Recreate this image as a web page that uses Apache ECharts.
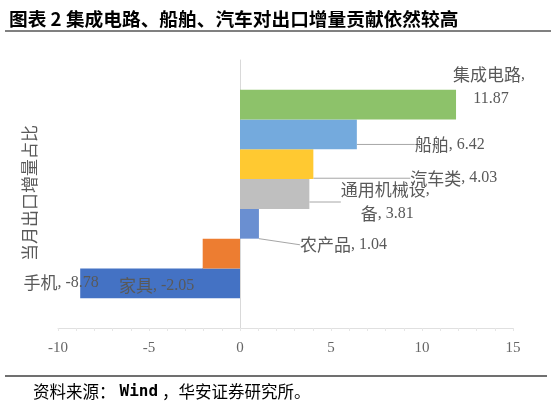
<!DOCTYPE html>
<html><head><meta charset="utf-8">
<script src="https://cdn.jsdelivr.net/npm/echarts@6/dist/echarts.min.js"></script>
<style>html,body{margin:0;padding:0;background:#fff}#c{width:551px;height:406px}</style>
</head><body><div id="c"></div>
<script>
// Data (bottom to top); blank slots pad the category axis like the original
const categories = ['', '手机', '家具', '农产品', '通用机械设备', '汽车类', '船舶', '集成电路', ''];
const values = [null, -8.78, -2.05, 1.04, 3.81, 4.03, 6.42, 11.87, null];
const xTicks = [-10, -5, 0, 5, 10, 15];

// Styles
const barColors = [null, '#4472C4', '#ED7D31', '#6A8FD1', '#BFBFBF', '#FFC931', '#74AADD', '#8DC26A', null];
const labelWraps = { '通用机械设备': ['通用机械设', '备'], '集成电路': ['集成电路', ''] };
// label offset from value end: [dx, dy, align, showLine]
const labelOffsets = [null, [-19, -1, 'center', false], [-46, 32, 'center', true], [41, 21, 'left', true],
  [78, 8, 'center', true], [97, 14, 'left', true], [58, 10, 'left', true], [35, -18, 'center', false], null];

const LBL = '#595959';
const cjk = '"Noto Sans CJK SC"';
const serif = '"Liberation Serif", "Noto Sans CJK SC", serif';

// wrap runs of CJK / full-width chars in {c|..}, others in {n|..}
function richify(s) {
  return s.split('\n').map(line => {
    let out = '', cur = '', curT = null;
    for (const ch of line) {
      const t = /[\u2E80-\u9FFF\uFF00-\uFFEF\u3000-\u303F]/.test(ch) ? 'c' : 'n';
      if (t !== curT && cur) { out += '{' + curT + '|' + cur + '}'; cur = ''; }
      curT = t; cur += ch;
    }
    if (cur) out += '{' + curT + '|' + cur + '}';
    return out;
  }).join('\n');
}

const chart = echarts.init(document.getElementById('c'));
chart.setOption({
  animation: false,
  backgroundColor: '#fff',
  title: {
    text: '图表 2 集成电路、船舶、汽车对出口增量贡献依然较高',
    left: 4, top: 5,
    textStyle: { fontSize: 18.7, fontWeight: 'bold', color: '#000', fontFamily: cjk }
  },
  graphic: [
    { type: 'line', shape: { x1: 5, y1: 31, x2: 551, y2: 31 }, style: { stroke: '#808080', lineWidth: 2 } },
    { type: 'line', shape: { x1: 5, y1: 376, x2: 547, y2: 376 }, style: { stroke: '#404040', lineWidth: 1.5 } },
    { type: 'text', x: 33, y: 392, style: {
        text: '{c|资料来源：}{m|Wind}{c|，华安证券研究所。}', verticalAlign: 'middle',
        rich: { c: { fontSize: 16.5, fontFamily: cjk, fill: '#000', color: '#000' },
                m: { fontSize: 16, fontWeight: 'bold', fontFamily: '"DejaVu Sans Mono"', fill: '#000', color: '#000', padding: [0, 4, 0, 4] } } } },
    { type: 'text', x: 30, y: 193, rotation: Math.PI / 2,
      style: { text: '当月出口增量占比', fill: LBL, font: '17px "Noto Sans CJK SC"', align: 'center', verticalAlign: 'middle' } }
  ],
  grid: { left: 58, right: 38, top: 60, bottom: 78 },
  xAxis: {
    type: 'value', min: xTicks[0], max: xTicks[xTicks.length - 1], interval: 5,
    axisLine: { show: true, lineStyle: { color: '#e0e0e0' } },
    axisTick: { show: true, length: 3, lineStyle: { color: '#e6e6e6' } },
    minorTick: { show: true, splitNumber: 5, length: 3, lineStyle: { color: '#e6e6e6' } },
    splitLine: { show: false },
    axisLabel: { color: '#666', fontSize: 15, fontFamily: serif, margin: 13 }
  },
  yAxis: {
    type: 'category', data: categories,
    axisLine: { show: true, onZero: true, lineStyle: { color: '#d9d9d9' } },
    axisTick: { show: false }, axisLabel: { show: false }
  },
  series: [{
    type: 'bar',
    barCategoryGap: 0,
    data: values.map((v, i) => ({
      value: v,
      itemStyle: { color: barColors[i] },
      labelLine: { show: labelOffsets[i] ? labelOffsets[i][3] : false }
    })),
    label: {
      show: true, position: 'right', color: LBL, lineHeight: 24,
      rich: {
        c: { fontSize: 17, fontFamily: cjk, color: LBL, lineHeight: 24 },
        n: { fontSize: 16, fontFamily: '"Liberation Serif"', color: LBL, lineHeight: 24 }
      },
      formatter: function (p) {
        if (p.value == null) return '';
        const w = labelWraps[p.name];
        let s;
        if (w) s = w[0] + ', ' + (w[1] ? '\n' + w[1] + ', ' : '\n') + p.value;
        else s = p.name + ', ' + p.value;
        return richify(s);
      }
    },
    labelLine: { show: true, lineStyle: { color: '#a6a6a6', width: 1 } },
    labelLayout: function (p) {
      const o = labelOffsets[p.dataIndex];
      if (!o) return {};
      const v = values[p.dataIndex];
      const r = p.rect;
      const endX = v >= 0 ? r.x + r.width : r.x;
      return { x: endX + o[0], y: r.y + r.height / 2 + o[1], align: o[2], verticalAlign: 'middle' };
    }
  }]
});
</script></body></html>
